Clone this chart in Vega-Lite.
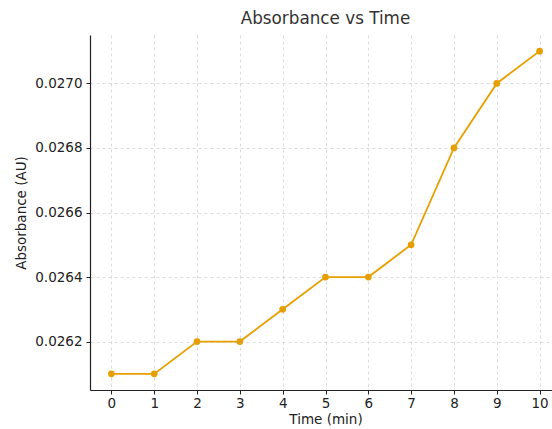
{
  "$schema": "https://vega.github.io/schema/vega-lite/v6.json",
  "autosize": {"type": "none"},
  "padding": {"left": 90, "top": 35, "right": 0, "bottom": 39},
  "width": 471,
  "height": 355,
  "background": "white",
  "title": {"text": "Absorbance vs Time", "font": "DejaVu Sans", "fontSize": 16.8, "fontWeight": "normal", "color": "#333333", "offset": 7},
  "data": {"values": [
    {"time": 0, "abs": 0.0261},
    {"time": 1, "abs": 0.0261},
    {"time": 2, "abs": 0.0262},
    {"time": 3, "abs": 0.0262},
    {"time": 4, "abs": 0.0263},
    {"time": 5, "abs": 0.0264},
    {"time": 6, "abs": 0.0264},
    {"time": 7, "abs": 0.0265},
    {"time": 8, "abs": 0.0268},
    {"time": 9, "abs": 0.0270},
    {"time": 10, "abs": 0.0271}
  ]},
  "config": {
    "view": {"stroke": null},
    "axis": {
      "labelFont": "DejaVu Sans", "labelFontSize": 13.5, "labelColor": "#222222",
      "titleFont": "DejaVu Sans", "titleFontSize": 13.5, "titleFontWeight": "normal", "titleColor": "#222222",
      "domainColor": "#222222", "domainWidth": 1.2, "tickColor": "#222222", "tickSize": 4,
      "gridColor": "#cccccc", "gridDash": [3, 3], "gridWidth": 0.7
    }
  },
  "mark": {"type": "line", "color": "#E69F00", "strokeWidth": 1.8, "point": {"filled": true, "size": 45, "color": "#E69F00", "opacity": 1}},
  "encoding": {
    "x": {"field": "time", "type": "quantitative", "title": "Time (min)",
      "scale": {"domain": [-0.5, 10.5], "nice": false, "zero": false},
      "axis": {"values": [0,1,2,3,4,5,6,7,8,9,10], "labelPadding": 2, "titlePadding": 3}},
    "y": {"field": "abs", "type": "quantitative", "title": "Absorbance (AU)",
      "scale": {"domain": [0.02605, 0.02715], "nice": false, "zero": false},
      "axis": {"values": [0.0262, 0.0264, 0.0266, 0.0268, 0.0270], "format": ".4f", "labelPadding": 4, "titlePadding": 6}}
  }
}
